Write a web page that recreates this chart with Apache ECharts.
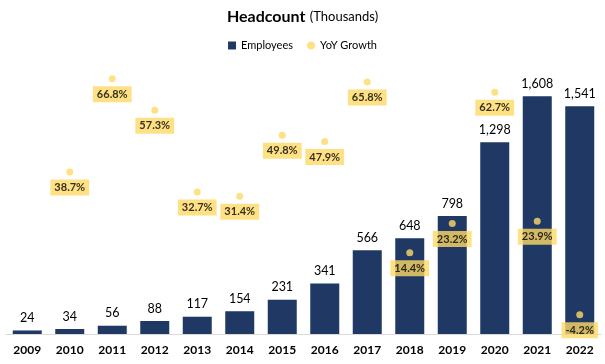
<!DOCTYPE html>
<html><head><meta charset="utf-8">
<script src="https://cdn.jsdelivr.net/npm/echarts@6/dist/echarts.min.js"></script>
<style>html,body{margin:0;padding:0;background:#fff}#c{width:605px;height:364px}</style>
</head><body><div id="c"></div>
<script>
const years = ['2009','2010','2011','2012','2013','2014','2015','2016','2017','2018','2019','2020','2021','2022'];
const employees = [24,34,56,88,117,154,231,341,566,648,798,1298,1608,1541];
const yoyGrowth = [null,38.7,66.8,57.3,32.7,31.4,49.8,47.9,65.8,14.4,23.2,62.7,23.9,-4.2];

const FONT = 'Lato, "Open Sans", sans-serif';
const chart = echarts.init(document.getElementById('c'), null, {renderer:'canvas'});
chart.setOption({
  animation:false,
  textStyle:{fontFamily:FONT},
  title:{
    text:'{b|Headcount} {n|(Thousands)}',
    left:'center', top:3,
    textStyle:{rich:{
      b:{fontSize:16,fontWeight:'bold',color:'#000',fontFamily:FONT},
      n:{fontSize:13,fontWeight:'normal',color:'#000',fontFamily:FONT}
    }}
  },
  legend:{
    top:35, left:'center', itemGap:14, itemWidth:8, itemHeight:8,
    textStyle:{fontSize:11,color:'#000',fontFamily:FONT},
    data:[{name:'Employees',icon:'rect'},{name:'YoY Growth',icon:'circle'}]
  },
  grid:{left:6,right:4,top:68,bottom:30},
  xAxis:{
    type:'category', data:years,
    axisLine:{lineStyle:{color:'#d9d9d9'}},
    axisTick:{show:false},
    axisLabel:{fontSize:12,fontWeight:'bold',color:'#000',margin:10,fontFamily:FONT}
  },
  yAxis:[
    {type:'value',min:0,max:1800,show:false,splitLine:{show:false}},
    {type:'value',min:-10,max:70,show:false,splitLine:{show:false}}
  ],
  series:[
    {
      name:'Employees', type:'bar', data:employees, barWidth:29,
      itemStyle:{color:'#203864'},
      label:{show:true,position:'top',distance:6,fontSize:12.5,color:'#000',fontFamily:FONT,
        formatter:p=>p.value.toLocaleString('en-US')}
    },
    {
      name:'YoY Growth', type:'scatter', yAxisIndex:1, data:yoyGrowth,
      symbolSize:7, z:5,
      itemStyle:{color:'#FFD966'},
      label:{show:true,position:'bottom',distance:4,fontSize:11,fontWeight:'bold',color:'#000',
        backgroundColor:'#FFD966',padding:[2,4,2,4],lineHeight:12,fontFamily:FONT,
        formatter:p=>p.value.toFixed(1)+'%'}
    }
  ]
});
</script></body></html>
